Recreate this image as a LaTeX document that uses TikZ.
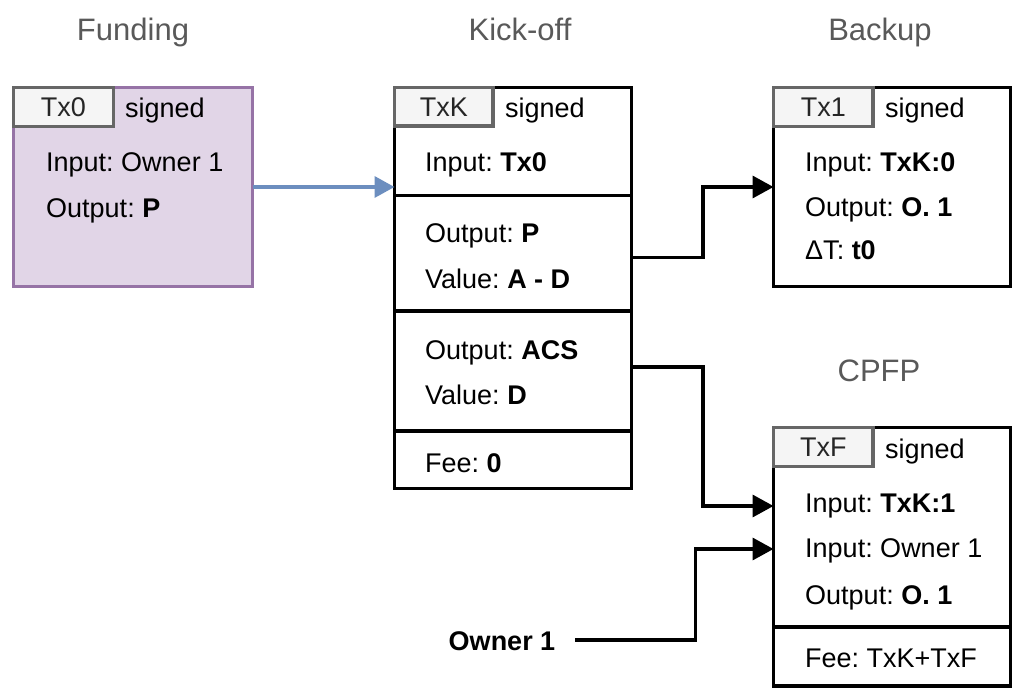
\documentclass[tikz,border=0pt]{standalone}
\usepackage{fontspec}
\setmainfont{Liberation Sans}
\usetikzlibrary{arrows.meta}
\definecolor{purpfill}{HTML}{E1D5E7}
\definecolor{purpline}{HTML}{9673A6}
\definecolor{tagfill}{HTML}{F5F5F5}
\definecolor{tagline}{HTML}{666666}
\definecolor{titlegray}{HTML}{595959}
\definecolor{bluearrow}{HTML}{6C8EBF}
\frenchspacing
\begin{document}
\begin{tikzpicture}[x=1pt,y=-1pt,
  box/.style={draw=black, line width=3.5pt, fill=white, anchor=north west, inner sep=0pt, outer sep=0pt, minimum width=237pt},
  tagbox/.style={draw=tagline, line width=3.5pt, fill=tagfill, anchor=north west, inner sep=0pt, outer sep=0pt, text=black!85, font=\fontsize{27}{32}\selectfont},
  txt/.style={anchor=west, inner sep=0pt, text height=20pt, text depth=0pt, font=\fontsize{27}{32}\selectfont},
  ttl/.style={anchor=center, inner sep=0pt, text height=22pt, text depth=0pt, text=titlegray, font=\fontsize{31}{36}\selectfont},
  conn/.style={draw=black, line width=3.5pt, -{Triangle[length=21pt,width=22pt]}},
  bconn/.style={draw=bluearrow, line width=3.5pt, -{Triangle[length=20pt,width=21pt]}}
]
\useasboundingbox (0,0) rectangle (1024,700);

% titles
\node[ttl] (tf) at (133,30) {Funding};
\node[ttl] (tk) at (520,30) {Kick-off};
\node[ttl] (tb) at (880,30) {Backup};
\node[ttl] (tc) at (879,370) {CPFP};

% Funding
\node[box, fill=purpfill, draw=purpline, minimum width=239pt, minimum height=199pt] (fund) at (13.5,87.5) {};
\node[tagbox, minimum width=100pt, minimum height=39pt] (tag0) at (13.5,87.5) {Tx0};
\node[txt] (fsig) at (125,108) {signed};
\node[txt] (f1) at (46,162) {Input: Owner 1};
\node[txt] (f2) at (46,208) {Output: \textbf{P}};

% Kick-off
\node[box, minimum height=108pt] (kin) at (394.5,87.5) {};
\node[box, minimum height=115.5pt] (kout1) at (394.5,195.5) {};
\node[box, minimum height=120pt] (kout2) at (394.5,311) {};
\node[box, minimum height=57.5pt] (kfee) at (394.5,431) {};
\node[tagbox, minimum width=98.5pt, minimum height=38.5pt] (tagK) at (394.5,87.5) {TxK};
\node[txt] (ksig) at (505,108) {signed};
\node[txt] (k1) at (425,162) {Input: \textbf{Tx0}};
\node[txt] (k2) at (425,233) {Output: \textbf{P}};
\node[txt] (k3) at (425,278) {Value: \textbf{A - D}};
\node[txt] (k4) at (425,349) {Output: \textbf{ACS}};
\node[txt] (k5) at (425,394) {Value: \textbf{D}};
\node[txt] (k6) at (425,462) {Fee: \textbf{0}};

% Backup
\node[box, minimum height=199pt] (bk) at (773.5,87.5) {};
\node[tagbox, minimum width=99.5pt, minimum height=39pt] (tag1) at (773.5,87.5) {Tx1};
\node[txt] (bsig) at (885,108) {signed};
\node[txt] (b1) at (805,162) {Input: \textbf{TxK:0}};
\node[txt] (b2) at (805,207) {Output: \textbf{O. 1}};
\node[txt] (b3) at (805,250) {ΔT: \textbf{t0}};

% CPFP
\node[box, minimum height=199.5pt] (cmain) at (773.5,427.5) {};
\node[box, minimum height=59pt] (cfee) at (773.5,627) {};
\node[tagbox, minimum width=99.5pt, minimum height=39pt] (tagF) at (773.5,427.5) {TxF};
\node[txt] (csig) at (885,448) {signed};
\node[txt] (c1) at (805,502) {Input: \textbf{TxK:1}};
\node[txt] (c2) at (805,547) {Input: Owner 1};
\node[txt] (c3) at (805,594) {Output: \textbf{O. 1}};
\node[txt] (c4) at (805,657) {Fee: TxK+TxF};

% Owner 1 label
\node[anchor=center, inner ysep=0pt, inner xsep=20pt, text height=20pt, text depth=0pt, font=\fontsize{27}{32}\selectfont\bfseries] (own) at (502,640) {Owner 1};

% connectors
\draw[bconn] (fund.east) -- (fund.east -| kin.west);
\draw[conn] ([yshift=-4.5pt]kout1.east) -- ++(71.5,0) |- (bk.west);
\draw[conn] ([yshift=4pt]kout2.east) -- ++(71.5,0) |- ([yshift=-4pt]cmain.west |- c1.west);
\draw[conn] (own.east) -- ++(120,0) |- ([yshift=-2pt]cmain.west |- c2.west);
\end{tikzpicture}
\end{document}
